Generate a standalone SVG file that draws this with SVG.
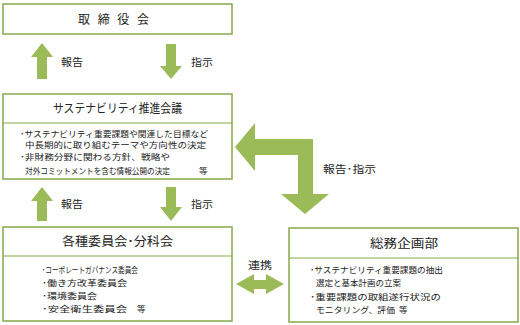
<svg xmlns="http://www.w3.org/2000/svg" width="520" height="325" viewBox="0 0 520 325">
<style>
.box{fill:#fff;stroke:#86A94B;stroke-width:1.5}
.div{stroke:#86A94B;stroke-width:1.2}
.arr{fill:#9BBB59}
text{font-family:"Noto Sans CJK JP","Noto Sans",sans-serif;fill:#222}
.t{font-size:12px;text-anchor:middle}
.b{font-size:8.5px}
.l{font-size:10px}
</style>
<rect width="520" height="325" fill="#fff"/>
<g id="connectors">
<polygon class="arr" points="42,43 53,57 47,57 47,79 37,79 37,57 31,57"/>
<polygon class="arr" points="166,44 176,44 176,66 182,66 171,79 160,66 166,66"/>
<polygon class="arr" points="42,187 53,201 47,201 47,221 37,221 37,201 31,201"/>
<polygon class="arr" points="166,187 176,187 176,207 182,207 171,221 160,207 166,207"/>
<polygon class="arr" points="235,147 255,123 255,139 313,139 313,194 329,194 305,214 281,194 298,194 298,155 255,155 255,171"/>
<polygon class="arr" points="236,284 254,274 254,280 266,280 266,274 284,284 266,294 266,289 254,289 254,294"/>
<text class="l" x="61" y="66" textLength="22" lengthAdjust="spacingAndGlyphs">報告</text>
<text class="l" x="191" y="66" textLength="22" lengthAdjust="spacingAndGlyphs">指示</text>
<text class="l" x="61" y="208" textLength="22" lengthAdjust="spacingAndGlyphs">報告</text>
<text class="l" x="191" y="208" textLength="22" lengthAdjust="spacingAndGlyphs">指示</text>
<text class="l" x="323" y="173" textLength="53" lengthAdjust="spacingAndGlyphs">報告･指示</text>
<text class="l" x="248" y="269" textLength="24" lengthAdjust="spacingAndGlyphs">連携</text>
</g>
<g id="board">
<rect class="box" x="3" y="4" width="229" height="30"/>
<text class="t" x="117.5" y="24" letter-spacing="8" textLength="79">取締役会</text>
</g>
<g id="council">
<rect class="box" x="3" y="94" width="229" height="85"/>
<line class="div" x1="3" y1="123" x2="232" y2="123"/>
<text class="t" x="117.5" y="113" textLength="129" lengthAdjust="spacingAndGlyphs">サステナビリティ推進会議</text>
<text class="b" x="20" y="136.5" textLength="188" lengthAdjust="spacingAndGlyphs">･サステナビリティ重要課題や関連した目標など</text>
<text class="b" x="25" y="148" textLength="181" lengthAdjust="spacingAndGlyphs">中長期的に取り組むテーマや方向性の決定</text>
<text class="b" x="20" y="160" textLength="150" lengthAdjust="spacingAndGlyphs">･非財務分野に関わる方針、戦略や</text>
<text class="b" x="25" y="174" textLength="145" lengthAdjust="spacingAndGlyphs">対外コミットメントを含む情報公開の決定</text>
<text class="b" x="199" y="174">等</text>
</g>
<g id="committees">
<rect class="box" x="3" y="227" width="229" height="94"/>
<line class="div" x1="3" y1="256" x2="232" y2="256"/>
<text class="t" x="117.5" y="246" textLength="111" lengthAdjust="spacingAndGlyphs">各種委員会･分科会</text>
<text class="b" x="42" y="273" textLength="96" lengthAdjust="spacingAndGlyphs">･コーポレートガバナンス委員会</text>
<text class="b" x="42" y="286" textLength="85" lengthAdjust="spacingAndGlyphs">･働き方改革委員会</text>
<text class="b" x="42" y="299" textLength="55" lengthAdjust="spacingAndGlyphs">･環境委員会</text>
<text class="b" x="42" y="312" textLength="85" lengthAdjust="spacingAndGlyphs">･安全衛生委員会</text>
<text class="b" x="137" y="312">等</text>
</g>
<g id="planning">
<rect class="box" x="289" y="228" width="229" height="94"/>
<line class="div" x1="289" y1="258" x2="518" y2="258"/>
<text class="t" x="404" y="248" textLength="68" lengthAdjust="spacingAndGlyphs">総務企画部</text>
<text class="b" x="310" y="273" textLength="133" lengthAdjust="spacingAndGlyphs">･サステナビリティ重要課題の抽出</text>
<text class="b" x="316" y="286" textLength="85" lengthAdjust="spacingAndGlyphs">選定と基本計画の立案</text>
<text class="b" x="310" y="300" textLength="131" lengthAdjust="spacingAndGlyphs">･重要課題の取組遂行状況の</text>
<text class="b" x="316" y="313" textLength="79" lengthAdjust="spacingAndGlyphs">モニタリング、評価</text>
<text class="b" x="399" y="313">等</text>
</g>
</svg>
